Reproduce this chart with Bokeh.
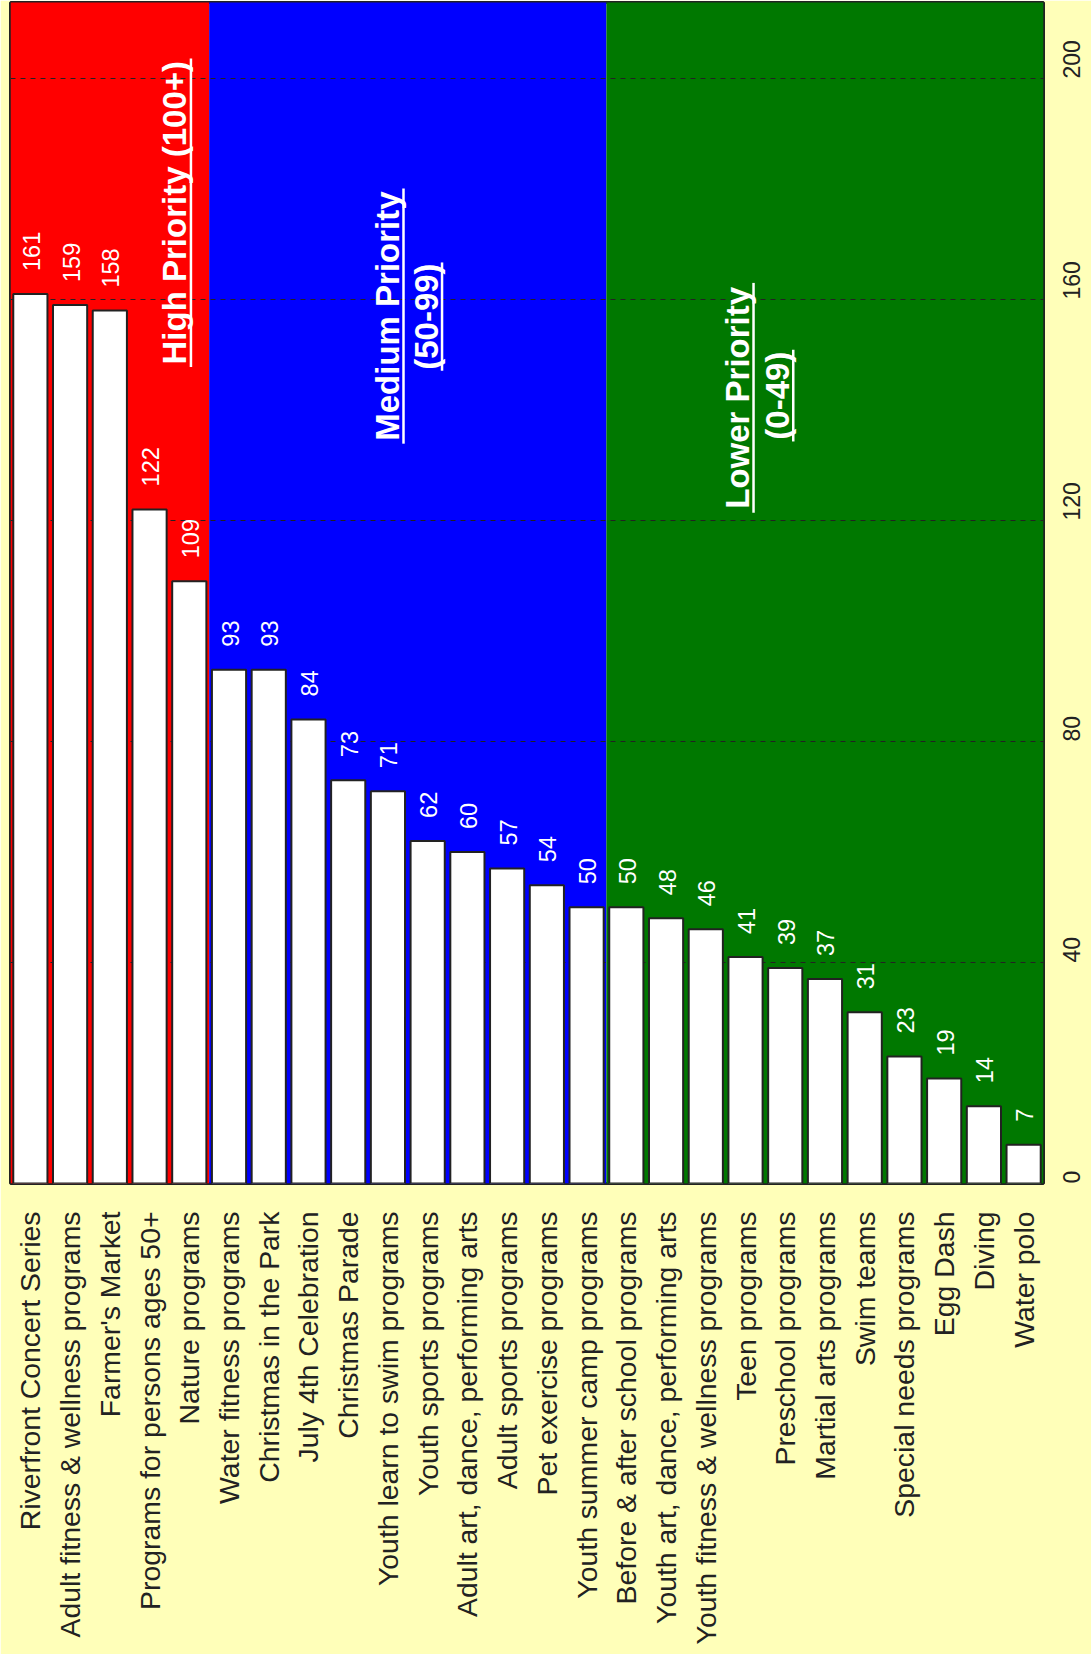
import math
from bokeh.plotting import figure
from bokeh.models import FactorRange, Range1d, FixedTicker, ColumnDataSource
from bokeh.core.properties import value
from bokeh.embed import file_html
from bokeh.resources import INLINE

# ---------------- data ----------------
programs = [
    "Riverfront Concert Series",
    "Adult fitness & wellness programs",
    "Farmer's Market",
    "Programs for persons ages 50+",
    "Nature programs",
    "Water fitness programs",
    "Christmas in the Park",
    "July 4th Celebration",
    "Christmas Parade",
    "Youth learn to swim programs",
    "Youth sports programs",
    "Adult art, dance, performing arts",
    "Adult sports programs",
    "Pet exercise programs",
    "Youth summer camp programs",
    "Before & after school programs",
    "Youth art, dance, performing arts",
    "Youth fitness & wellness programs",
    "Teen programs",
    "Preschool programs",
    "Martial arts programs",
    "Swim teams",
    "Special needs programs",
    "Egg Dash",
    "Diving",
    "Water polo",
]
scores = [161, 159, 158, 122, 109, 93, 93, 84, 73, 71, 62, 60, 57, 54, 50,
          50, 48, 46, 41, 39, 37, 31, 23, 19, 14, 7]
tick_values = [0, 40, 80, 120, 160, 200]

band_titles = [["High Priority (100+)"],
               ["Medium Priority", "(50-99)"],
               ["Lower Priority", "(0-49)"]]
band_counts = [5, 10, 11]
band_colors = ["#FF0000", "#0000FF", "#007800"]

# ---------------- style / layout ----------------
BG = "#FFFFB9"
INK = "#222222"
FONT = "Liberation Sans"
W, H = 1091, 1654
FRAME_W, FRAME_H = 1036, 1181
Y_END = 213.75
PX_PER_CAT = FRAME_W / len(programs)

p = figure(
    x_range=FactorRange(*programs, range_padding=0, factor_padding=0),
    y_range=Range1d(0, Y_END),
    width=W, height=H,
    output_backend="svg", toolbar_location=None,
    y_axis_location="right",
    background_fill_color=BG, border_fill_color=BG,
    min_border_left=10, min_border_top=2, min_border_right=W - 10 - FRAME_W,
    min_border_bottom=H - 2 - FRAME_H,
    outline_line_color=INK, outline_line_width=3,
)

# priority bands
lefts, rights = [], []
acc = 0
for c in band_counts:
    lefts.append(acc)
    acc += c
    rights.append(acc)
bands = p.quad(left=lefts, right=rights, bottom=[0] * 3, top=[Y_END * 1.2] * 3,
               fill_color=band_colors, line_color=None)
bands.level = "image"

# bars
src = ColumnDataSource(dict(x=programs, top=scores, lbl=[str(s) for s in scores]))
p.vbar(x="x", top="top", bottom=0, width=0.86, source=src,
       fill_color="white", line_color=INK, line_width=2)

# value labels
p.text(x="x", y="top", text="lbl", source=src, angle=math.pi / 2,
       text_align="left", text_baseline="middle", y_offset=-23, x_offset=1,
       text_color="white", text_font=value(FONT), text_font_size="23.5px")

# priority titles with underlines
title_layout = [
    [(-0.86, 175.7, 27.9)],
    [(-5.51, 157.0, 23.1), (-4.54, 156.9, 9.8)],
    [(-7.7, 142.2, 20.8), (-6.7, 142.6, 8.3)],
]
ul_off = 16 / PX_PER_CAT
for bi, lines in enumerate(band_titles):
    for li, line in enumerate(lines):
        dx, yc, half = title_layout[bi][li]
        xc = rights[bi] + dx
        p.text(x=[xc], y=[yc], text=[line], angle=math.pi / 2,
               text_align="center", text_baseline="middle",
               text_color="white", text_font=value(FONT),
               text_font_style="bold", text_font_size="33px")
        p.segment(x0=[xc + ul_off], x1=[xc + ul_off], y0=[yc - half], y1=[yc + half],
                  line_color="white", line_width=2.5)

# axes
p.xgrid.grid_line_color = None
p.ygrid.grid_line_color = INK
p.ygrid.grid_line_dash = "5 5"
p.ygrid.grid_line_width = 1
p.ygrid.ticker = FixedTicker(ticks=tick_values)

xa = p.xaxis[0]
xa.major_label_orientation = math.pi / 2
xa.major_label_text_font = FONT
xa.major_label_text_font_size = "28.4px"
xa.major_label_text_color = INK
xa.major_label_standoff = 22
xa.major_tick_line_color = None
xa.minor_tick_line_color = None
xa.axis_line_color = None

ya = p.yaxis[0]
ya.ticker = FixedTicker(ticks=tick_values)
ya.major_label_orientation = math.pi / 2
ya.major_label_text_font = FONT
ya.major_label_text_font_size = "23px"
ya.major_label_text_color = INK
ya.major_label_standoff = 22
ya.major_tick_line_color = None
ya.minor_tick_line_color = None
ya.axis_line_color = None

html = file_html(p, INLINE)
html = html.replace("<body>", '<body style="background:%s">' % BG, 1)
open("out.html", "w").write(html)
